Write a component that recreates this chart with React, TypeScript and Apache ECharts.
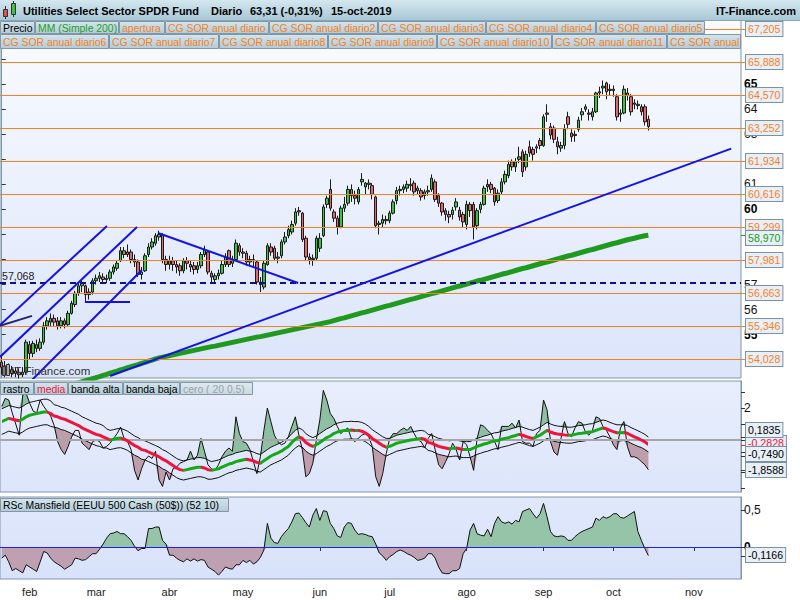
import React, { useEffect, useRef } from 'react';
import * as echarts from 'echarts';

// ---------- calendario de sesiones ----------
const INICIO = '2019-01-22';
const NUM_SESIONES = 212;
const FERIADOS = ['2019-02-18', '2019-04-19', '2019-05-27', '2019-07-04', '2019-09-02', '2019-11-28'];
const MESES = ['ene', 'feb', 'mar', 'abr', 'may', 'jun', 'jul', 'ago', 'sep', 'oct', 'nov', 'dic'];

// ---------- precio: [apertura, cierre, mínimo, máximo] ----------
const velas: number[][] = [
  [53.90, 53.70, 53.40, 54.20], [53.75, 53.55, 53.30, 53.95], [53.50, 53.65, 53.35, 53.85], [53.60, 53.45, 53.30, 53.75],
  [53.45, 53.55, 53.30, 53.70], [53.50, 53.40, 53.25, 53.65], [53.40, 53.50, 53.30, 53.70], [53.50, 54.70, 53.40, 54.80],
  [54.60, 54.25, 54.00, 54.75], [54.25, 54.65, 54.10, 54.75], [54.60, 54.45, 54.30, 54.80], [54.45, 54.70, 54.35, 54.85],
  [54.70, 55.35, 54.60, 55.50], [55.35, 55.55, 55.20, 55.70], [55.50, 55.65, 55.35, 55.85], [55.65, 55.50, 55.35, 55.80],
  [55.55, 55.35, 55.20, 55.70], [55.35, 55.55, 55.25, 55.70], [55.55, 55.40, 55.25, 55.65], [55.40, 55.85, 55.35, 55.95],
  [55.85, 56.25, 55.80, 56.35], [56.20, 56.65, 56.10, 56.75], [56.65, 56.95, 56.55, 57.10], [56.95, 57.05, 56.70, 57.20],
  [56.95, 56.60, 56.30, 57.00], [56.60, 56.70, 56.40, 56.85], [56.70, 57.15, 56.60, 57.25], [57.15, 57.25, 57.00, 57.40],
  [57.25, 57.35, 57.10, 57.50], [57.30, 57.20, 57.05, 57.45], [57.20, 57.25, 57.05, 57.40], [57.25, 57.50, 57.15, 57.60],
  [57.50, 57.70, 57.40, 57.80], [57.65, 57.85, 57.55, 57.95], [57.95, 58.35, 57.90, 58.50], [58.35, 58.20, 58.05, 58.50],
  [58.20, 58.30, 58.10, 58.60], [58.30, 58.00, 57.85, 58.40], [58.00, 57.90, 57.70, 58.20], [57.90, 57.40, 57.30, 58.00],
  [57.40, 57.50, 57.20, 57.70], [57.55, 58.15, 57.50, 58.25], [58.20, 58.50, 58.10, 58.65], [58.50, 58.70, 58.40, 58.85],
  [58.65, 58.95, 58.55, 59.05], [58.90, 59.00, 58.75, 59.15], [59.00, 58.00, 57.85, 59.05], [58.00, 57.80, 57.55, 58.15],
  [57.80, 57.95, 57.60, 58.15], [57.95, 57.80, 57.55, 58.10], [57.80, 57.70, 57.45, 57.95], [57.75, 57.55, 57.35, 57.85],
  [57.55, 57.95, 57.45, 58.05], [57.95, 57.85, 57.60, 58.10], [57.80, 57.70, 57.50, 57.95], [57.75, 57.60, 57.40, 57.90],
  [57.60, 57.75, 57.45, 57.90], [57.75, 58.20, 57.65, 58.30], [58.20, 58.40, 58.10, 58.55], [58.30, 57.50, 57.40, 58.35],
  [57.45, 57.30, 57.10, 57.55], [57.20, 57.35, 57.05, 57.45], [57.35, 57.45, 57.20, 57.60], [57.45, 57.80, 57.40, 57.95],
  [57.80, 58.10, 57.70, 58.25], [58.35, 57.80, 57.70, 58.40], [57.85, 58.00, 57.70, 58.15], [58.00, 58.65, 57.95, 58.80],
  [58.55, 58.30, 58.15, 58.65], [58.30, 58.25, 58.05, 58.45], [58.25, 57.90, 57.75, 58.35], [57.90, 58.00, 57.75, 58.15],
  [58.00, 57.95, 57.70, 58.20], [57.90, 57.10, 57.00, 57.95], [57.10, 57.00, 56.70, 57.30], [56.90, 57.85, 56.80, 57.95],
  [57.80, 58.55, 57.75, 58.65], [58.50, 58.30, 58.15, 58.65], [58.45, 58.05, 57.95, 58.55], [58.05, 58.10, 57.85, 58.30],
  [58.15, 58.70, 58.05, 58.80], [58.70, 58.90, 58.60, 59.10], [58.95, 59.20, 58.85, 59.35], [59.10, 59.40, 59.00, 59.55],
  [59.45, 59.90, 59.35, 60.05], [59.95, 59.90, 59.75, 60.10], [59.85, 58.80, 58.70, 59.90], [58.85, 58.10, 57.95, 58.95],
  [58.10, 58.00, 57.80, 58.25], [58.00, 58.05, 57.75, 58.20], [58.05, 58.85, 57.95, 58.95], [58.45, 58.85, 58.30, 59.05],
  [58.95, 60.10, 58.90, 60.20], [60.20, 60.45, 60.05, 60.55], [60.80, 60.05, 59.95, 61.20], [59.90, 59.65, 59.50, 60.00],
  [59.65, 59.30, 59.00, 59.75], [59.30, 60.05, 59.25, 60.15], [60.05, 60.20, 59.90, 60.50], [60.25, 60.80, 60.15, 60.95],
  [60.80, 60.55, 60.30, 61.00], [60.55, 60.45, 60.20, 60.75], [60.30, 60.80, 60.20, 60.90], [61.10, 61.20, 60.95, 61.45],
  [60.90, 61.05, 60.60, 61.10], [61.05, 61.00, 60.80, 61.20], [60.95, 60.60, 60.40, 61.05], [60.50, 59.35, 59.25, 60.55],
  [59.40, 59.45, 59.00, 59.55], [59.45, 59.60, 59.30, 59.80], [59.60, 59.55, 59.40, 59.75], [59.55, 59.85, 59.45, 59.95],
  [59.85, 60.30, 59.80, 60.40], [60.35, 60.75, 60.20, 60.90], [60.75, 60.80, 60.55, 60.95], [60.80, 60.90, 60.65, 61.00],
  [60.85, 61.00, 60.70, 61.15], [61.00, 60.95, 60.75, 61.25], [61.05, 60.70, 60.55, 61.15], [60.75, 60.85, 60.60, 60.95],
  [60.75, 60.50, 60.35, 60.85], [60.55, 60.70, 60.40, 60.80], [60.70, 60.75, 60.55, 60.95], [60.80, 61.25, 60.70, 61.40],
  [61.10, 60.40, 60.30, 61.20], [60.55, 60.25, 60.10, 60.65], [60.25, 59.90, 59.75, 60.30], [59.95, 59.80, 59.55, 60.05],
  [59.80, 59.70, 59.45, 59.95], [59.80, 59.97, 59.60, 60.10], [60.10, 60.30, 59.95, 60.45], [59.97, 59.70, 59.55, 60.10],
  [59.80, 59.50, 59.30, 59.90], [59.40, 60.20, 59.20, 60.35], [60.20, 59.95, 59.70, 60.30], [60.20, 59.30, 58.80, 60.30],
  [59.35, 59.95, 59.20, 60.05], [60.00, 60.20, 59.85, 60.30], [60.20, 60.85, 60.15, 60.95], [60.90, 61.00, 60.70, 61.20],
  [61.00, 60.80, 60.65, 61.10], [60.85, 60.30, 60.15, 60.90], [60.35, 60.65, 60.25, 60.80], [60.70, 61.10, 60.60, 61.25],
  [61.10, 61.40, 61.00, 61.55], [61.35, 61.80, 61.25, 61.95], [61.90, 61.70, 61.55, 62.00], [61.70, 61.90, 61.50, 62.05],
  [62.00, 62.10, 61.85, 62.50], [62.30, 61.50, 61.30, 62.40], [61.70, 62.20, 61.55, 62.35], [62.50, 62.25, 62.10, 62.75],
  [62.40, 62.20, 61.95, 62.50], [62.45, 62.50, 62.25, 62.60], [62.75, 62.55, 62.40, 62.85], [62.55, 63.70, 62.50, 63.80],
  [63.85, 63.80, 63.50, 64.20], [63.30, 62.97, 62.80, 63.45], [63.25, 62.80, 62.65, 63.35], [62.70, 62.50, 62.20, 62.90],
  [62.45, 62.55, 62.30, 62.70], [62.55, 63.20, 62.40, 63.40], [63.70, 63.40, 63.20, 63.90], [63.05, 62.90, 62.70, 63.20],
  [62.95, 63.00, 62.70, 63.15], [63.20, 63.57, 63.10, 63.70], [63.78, 63.90, 63.55, 64.05], [64.00, 64.10, 63.90, 64.20],
  [63.85, 63.80, 63.55, 64.00], [63.70, 63.90, 63.55, 64.05], [63.90, 64.65, 63.85, 64.70], [64.65, 64.70, 64.45, 64.90],
  [64.85, 64.92, 64.60, 65.15], [65.05, 64.70, 64.40, 65.10], [64.75, 64.80, 64.55, 65.00], [64.80, 64.75, 64.50, 64.95],
  [64.50, 63.70, 63.55, 64.60], [63.80, 63.85, 63.50, 64.00], [63.85, 64.80, 63.80, 64.95], [64.65, 64.55, 64.35, 64.85],
  [64.50, 63.90, 63.75, 64.60], [64.20, 64.25, 64.00, 64.40], [64.15, 64.20, 64.00, 64.35], [64.10, 63.90, 63.75, 64.20],
  [64.10, 63.50, 63.35, 64.20], [63.60, 63.31, 63.15, 63.75],
];

// MM (Simple 200)
const mediaMovil200 = [
  52.20, 52.24, 52.28, 52.33, 52.37, 52.41, 52.45, 52.49, 52.52, 52.56, 52.60, 52.64, 52.67, 52.71, 52.75, 52.79, 52.84, 52.88, 52.92, 52.96,
  53.00, 53.04, 53.08, 53.12, 53.16, 53.20, 53.24, 53.28, 53.32, 53.37, 53.41, 53.46, 53.50, 53.54, 53.59, 53.63, 53.68, 53.72, 53.76, 53.80,
  53.85, 53.89, 53.94, 53.98, 54.03, 54.07, 54.10, 54.13, 54.16, 54.19, 54.22, 54.25, 54.28, 54.31, 54.34, 54.37, 54.40, 54.43, 54.46, 54.49,
  54.52, 54.54, 54.57, 54.60, 54.63, 54.66, 54.69, 54.72, 54.75, 54.78, 54.81, 54.84, 54.87, 54.90, 54.92, 54.95, 54.98, 55.01, 55.04, 55.07,
  55.10, 55.13, 55.16, 55.19, 55.22, 55.25, 55.28, 55.31, 55.34, 55.37, 55.40, 55.43, 55.46, 55.49, 55.52, 55.56, 55.60, 55.64, 55.67, 55.71,
  55.75, 55.79, 55.83, 55.87, 55.90, 55.94, 55.98, 56.02, 56.06, 56.10, 56.14, 56.17, 56.21, 56.25, 56.29, 56.33, 56.37, 56.41, 56.44, 56.48,
  56.52, 56.56, 56.60, 56.64, 56.67, 56.71, 56.75, 56.79, 56.83, 56.87, 56.91, 56.94, 56.98, 57.02, 57.06, 57.10, 57.14, 57.17, 57.21, 57.25,
  57.29, 57.33, 57.37, 57.41, 57.44, 57.48, 57.52, 57.56, 57.60, 57.64, 57.67, 57.71, 57.75, 57.79, 57.83, 57.87, 57.90, 57.94, 57.98, 58.02,
  58.06, 58.10, 58.14, 58.17, 58.21, 58.25, 58.29, 58.33, 58.37, 58.40, 58.44, 58.48, 58.52, 58.56, 58.60, 58.64, 58.67, 58.71, 58.75, 58.79,
  58.82, 58.85, 58.89, 58.92, 58.95, 58.97,
];

// CG SOR anual diario (niveles)
const nivelesSOR = [67.205, 65.888, 64.570, 63.252, 61.934, 60.616, 59.299, 57.981, 56.663, 55.346, 54.028];
const nivelSoporte = 57.068;
const ultimoMM = 58.970;

// líneas de tendencia [índice de sesión, precio]
const lineasTendencia: number[][][] = [
  [[-0.5, 55.385], [30.1, 59.34]],
  [[-0.5, 54.11], [38.7, 59.30]],
  [[8.66, 53.19], [40.1, 57.58]],
  [[-0.5, 55.35], [8.66, 55.75]],
  [[23.8, 56.30], [36.7, 56.30]],
  [[44.7, 59.06], [84.8, 57.06]],
  [[31.0, 53.35], [208.7, 62.43]],
];

const precioTicks = [54, 55, 56, 57, 58, 59, 60, 61, 62, 63, 64, 65, 66, 67];
const precioEtiquetas = [55, 56, 57, 60, 61, 63, 64, 65];

// ---------- rastro ----------
const rastro = [
  2.1, 2.6, 2.5, 1.7, 1.0, 0.3, 2.8, 2.9, 2.3, 1.8,
  1.7, 2.5, 2.1, 1.8, 1.5, 0.9, -0.1, -0.6, -0.9, -0.4,
  0.2, 0.6, 0.6, -0.2, -0.4, -0.6, -0.1, 0.0, -0.1, -0.5,
  -0.4, -0.2, 0.1, 0.4, 0.8, 0.1, -0.1, -0.6, -1.9, -2.5,
  -1.8, -1.25, -1.0, -1.15, -0.7, -2.5, -2.9, -2.0, -2.5, -1.8,
  -1.7, -1.45, -1.35, -1.25, -0.7, -1.25, -0.95, 0.1, -0.7, -1.55,
  -1.8, -1.9, -1.55, -1.05, -0.7, -0.5, -0.7, 1.45, 0.4, -0.1,
  -0.2, -0.6, -1.35, -2.1, -1.05, 0.6, 2.0, 1.15, 0.3, -0.1,
  -0.3, -0.2, 0.2, 0.85, 1.45, 0.3, -0.6, -2.3, -2.1, -1.45,
  0.0, 1.25, 3.1, 2.5, 1.65, 1.35, 0.85, 0.4, 0.6, 0.75,
  0.1, -0.1, 0.1, 0.3, 0.4, 0.2, -0.4, -2.3, -2.9, -2.1,
  -0.85, 0.1, 0.4, 0.4,
  0.6, 0.75, 0.6, 0.85, 0.4, 0.0, -0.1, -0.5, 0.1, 0.4,
  -0.6, -1.55, -1.8, -1.35, -0.85, -0.2, -0.6, -1.25, -0.1, -0.3,
  -1.05, -1.9, 0.1, 0.95, 0.85, 0.6, 0.4, -0.1, -0.6, 0.85,
  0.85, 0.85, 1.05, 0.75, 1.25, -0.1, -0.2, -0.2, -0.4, 0.4,
  0.6, 2.5, 1.9, -0.1, -0.75, -0.95, 0.1, 1.15, 0.4, 0.2,
  0.75, 1.15, 1.05, 0.5, 0.3, 0.6, 1.45, 1.35, 0.85, 0.6,
  0.2, -0.3, -0.6, 0.75, 1.15, -0.4, -1.05, -1.05, -1.15, -1.35,
  -1.55, -1.8588,
];

const mediaRastro = [
  1.15, 1.25, 1.35, 1.3, 1.25, 1.2, 1.3, 1.45, 1.55, 1.6,
  1.65, 1.7, 1.75, 1.75, 1.65, 1.5, 1.45, 1.35, 1.3, 1.2,
  1.1, 1.0, 0.9, 0.75, 0.65, 0.55, 0.45, 0.35, 0.3, 0.2,
  0.1, 0.0, 0.05, 0.1, 0.12, 0.05, -0.05, -0.2, -0.35, -0.45,
  -0.6, -0.65, -0.75, -0.85, -0.95, -1.05, -1.2, -1.3, -1.45, -1.6,
  -1.75, -1.85, -1.9, -1.85, -1.8, -1.75, -1.7, -1.7, -1.75, -1.85,
  -1.9, -1.85, -1.8, -1.7, -1.6, -1.5, -1.45, -1.35, -1.3, -1.25,
  -1.2, -1.25, -1.3, -1.4, -1.45, -1.3, -1.15, -1.0, -0.9, -0.8,
  -0.7, -0.55, -0.4, -0.15, 0.05, 0.2, 0.1, -0.15, -0.3, -0.4,
  -0.3, -0.15, 0.0, 0.15, 0.25, 0.4, 0.5, 0.55, 0.6, 0.6,
  0.62, 0.6, 0.6, 0.55, 0.45, 0.3, 0.1, -0.05, -0.2, -0.35,
  -0.45, -0.4, -0.3, -0.2,
  -0.15, -0.1, -0.05, 0.0, 0.03, 0.07, 0.1, 0.05, -0.15, -0.2,
  -0.3, -0.4, -0.45, -0.5, -0.55, -0.52, -0.5, -0.55, -0.6, -0.6,
  -0.6, -0.5, -0.4, -0.33, -0.25, -0.2, -0.12, -0.05, -0.03, 0.05,
  0.1, 0.15, 0.22, 0.28, 0.35, 0.3, 0.22, 0.15, 0.1, 0.2,
  0.3, 0.45, 0.6, 0.5, 0.42, 0.37, 0.35, 0.32, 0.3, 0.3,
  0.35, 0.4, 0.42, 0.45, 0.5, 0.52, 0.6, 0.68, 0.75, 0.7,
  0.6, 0.52, 0.45, 0.45, 0.47, 0.42, 0.3, 0.2, 0.1, 0.0,
  -0.12, -0.2828,
];

const bandaAlta = [
  1.95, 2.05, 2.15, 2.1, 2.05, 2.0, 2.1, 2.25, 2.35, 2.4,
  2.45, 2.5, 2.55, 2.55, 2.45, 2.2, 2.15, 2.05, 2.0, 1.9,
  1.8, 1.7, 1.6, 1.45, 1.35, 1.25, 1.15, 1.05, 1.0, 0.9,
  0.7, 0.6, 0.65, 0.7, 0.72, 0.65, 0.55, 0.4, 0.25, 0.15,
  0.0, -0.05, -0.15, -0.25, -0.35, -0.45, -0.6, -0.7, -0.85, -1.0,
  -1.15, -1.25, -1.3, -1.25, -1.2, -1.15, -1.1, -1.1, -1.15, -1.25,
  -1.35, -1.3, -1.25, -1.15, -1.05, -0.95, -0.9, -0.8, -0.75, -0.7,
  -0.65, -0.7, -0.75, -0.85, -0.9, -0.75, -0.6, -0.45, -0.35, -0.25,
  -0.15, 0.0, 0.15, 0.4, 0.6, 0.75, 0.65, 0.4, 0.25, 0.15,
  0.25, 0.4, 0.55, 0.7, 0.8, 0.95, 1.05, 1.1, 1.15, 1.15,
  1.17, 1.15, 1.15, 1.1, 1.0, 0.85, 0.65, 0.5, 0.35, 0.2,
  0.1, 0.1, 0.2, 0.3,
  0.35, 0.4, 0.45, 0.5, 0.53, 0.57, 0.6, 0.55, 0.35, 0.3,
  0.2, 0.1, 0.05, 0.0, -0.05, -0.02, 0.0, -0.05, -0.1, -0.1,
  -0.1, 0.0, 0.1, 0.17, 0.25, 0.3, 0.38, 0.45, 0.47, 0.55,
  0.6, 0.65, 0.72, 0.78, 0.85, 0.8, 0.72, 0.65, 0.6, 0.7,
  0.8, 0.95, 1.1, 1.0, 0.92, 0.87, 0.85, 0.82, 0.8, 0.8,
  0.85, 0.9, 0.92, 0.95, 1.0, 1.02, 1.1, 1.18, 1.25, 1.2,
  1.1, 1.02, 0.95, 0.95, 0.95, 0.9, 0.78, 0.68, 0.58, 0.47,
  0.35, 0.1835,
];

const bandaBaja = [
  0.35, 0.45, 0.55, 0.5, 0.45, 0.4, 0.5, 0.65, 0.75, 0.8,
  0.85, 0.9, 0.95, 0.95, 0.85, 0.8, 0.75, 0.65, 0.6, 0.5,
  0.4, 0.3, 0.2, 0.05, -0.05, -0.15, -0.25, -0.35, -0.4, -0.5,
  -0.5, -0.6, -0.55, -0.5, -0.48, -0.55, -0.65, -0.8, -0.95, -1.05,
  -1.2, -1.25, -1.35, -1.45, -1.55, -1.65, -1.8, -1.9, -2.05, -2.2,
  -2.35, -2.45, -2.5, -2.45, -2.4, -2.35, -2.3, -2.3, -2.35, -2.45,
  -2.45, -2.4, -2.35, -2.25, -2.15, -2.05, -2.0, -1.9, -1.85, -1.8,
  -1.75, -1.8, -1.85, -1.95, -2.0, -1.85, -1.7, -1.55, -1.45, -1.35,
  -1.25, -1.1, -0.95, -0.7, -0.5, -0.35, -0.45, -0.7, -0.85, -0.95,
  -0.85, -0.7, -0.55, -0.4, -0.3, -0.15, -0.05, 0.0, 0.05, 0.05,
  0.07, 0.05, 0.05, 0.0, -0.1, -0.25, -0.45, -0.6, -0.75, -0.9,
  -1.0, -0.9, -0.8, -0.7,
  -0.65, -0.6, -0.55, -0.5, -0.47, -0.43, -0.4, -0.45, -0.65, -0.7,
  -0.8, -0.9, -0.95, -1.0, -1.05, -1.02, -1.0, -1.05, -1.1, -1.1,
  -1.1, -1.0, -0.9, -0.83, -0.75, -0.7, -0.62, -0.55, -0.53, -0.45,
  -0.4, -0.35, -0.28, -0.22, -0.15, -0.2, -0.28, -0.35, -0.4, -0.3,
  -0.2, -0.05, 0.1, 0.0, -0.08, -0.13, -0.15, -0.18, -0.2, -0.2,
  -0.15, -0.1, -0.08, -0.05, 0.0, 0.02, 0.1, 0.18, 0.25, 0.2,
  0.1, 0.02, -0.05, -0.05, -0.03, -0.08, -0.2, -0.3, -0.4, -0.47,
  -0.6, -0.749,
];

// ---------- RSc Mansfield ----------
const mansfield = [
  -0.15, -0.11, -0.2, -0.32, -0.29, -0.32, -0.35, -0.24, -0.27, -0.3,
  -0.33, -0.2, -0.06, -0.08, -0.15, -0.2, -0.23, -0.26, -0.3, -0.27,
  -0.24, -0.15, -0.16, -0.18, -0.17, -0.13, -0.09, -0.09, -0.03, 0.04,
  0.12, 0.18, 0.19, 0.21, 0.18, 0.18, 0.14, 0.09, 0.01, -0.05,
  -0.02, -0.02, 0.25, 0.25, 0.27, 0.27, 0.09, 0.04, -0.11, -0.11,
  -0.15, -0.18, -0.2, -0.16, -0.19, -0.16, -0.19, -0.17, -0.18, -0.27,
  -0.3, -0.33, -0.38, -0.33, -0.27, -0.29, -0.3, -0.24, -0.24, -0.18,
  -0.21, -0.18, -0.23, -0.2, -0.14, -0.04, 0.32, 0.12, 0.06, 0.05,
  0.14, 0.2, 0.25, 0.34, 0.45, 0.46, 0.4, 0.33, 0.27, 0.43,
  0.52, 0.36, 0.49, 0.48, 0.32, 0.25, 0.15, 0.13, 0.27, 0.33,
  0.32, 0.23, 0.17, 0.18, 0.17, 0.15, 0.14, 0.04, -0.08, -0.12,
  -0.18, -0.13, -0.1, -0.06,
  -0.04, -0.06, -0.09, -0.11, -0.14, -0.18, -0.17, -0.15, -0.09, -0.09,
  -0.15, -0.27, -0.35, -0.36, -0.36, -0.32, -0.32, -0.29, -0.09, -0.02,
  0.23, 0.32, 0.18, 0.16, 0.15, 0.24, 0.14, 0.32, 0.41, 0.34,
  0.32, 0.34, 0.31, 0.36, 0.34, 0.48, 0.5, 0.52, 0.45, 0.39,
  0.45, 0.59, 0.41, 0.21, 0.15, 0.14, 0.15, 0.14, 0.09, 0.09,
  0.14, 0.18, 0.21, 0.23, 0.25, 0.27, 0.39, 0.36, 0.41, 0.39,
  0.41, 0.45, 0.45, 0.4, 0.39, 0.42, 0.45, 0.48, 0.21, 0.09,
  -0.02, -0.1166,
];

// ---------- textos ----------
const titulo = ['Utilities Select Sector SPDR Fund', 'Diario', '63,31 (-0,31%)', '15-oct-2019'];
const leyendaFila1 = ['Precio', 'MM (Simple 200)', 'apertura', 'CG SOR anual diario', 'CG SOR anual diario2', 'CG SOR anual diario3', 'CG SOR anual diario4', 'CG SOR anual diario5'];
const leyendaFila2 = ['CG SOR anual diario6', 'CG SOR anual diario7', 'CG SOR anual diario8', 'CG SOR anual diario9', 'CG SOR anual diario10', 'CG SOR anual diario11', 'CG SOR anual'];
const leyendaRastro = ['rastro', 'media', 'banda alta', 'banda baja', 'cero ( 20 0.5)'];
const leyendaMansfield = 'RSc Mansfield (EEUU 500 Cash (50$)) (52 10)';

// ---------- estilo ----------
const FONT = '"Liberation Sans", Arial, sans-serif';
const FS_LEY = 10.4;
const NARANJA = '#f5821f';
const VERDE_MM = '#1f9a1f';
const ROJO_MEDIA = '#f0143c';
const VERDE_MEDIA = '#17a817';
const AZUL = '#1212e6';
const BORDE = '#8097a8';

function sesiones(): string[] {
  const out: string[] = [];
  const d = new Date(INICIO + 'T12:00:00Z');
  while (out.length < NUM_SESIONES) {
    const dow = d.getUTCDay();
    const s = d.toISOString().slice(0, 10);
    if (dow !== 0 && dow !== 6 && FERIADOS.indexOf(s) < 0) out.push(s);
    d.setUTCDate(d.getUTCDate() + 1);
  }
  return out;
}

const coma = (v: number, dec: number) => v.toFixed(dec).replace('.', ',');

function grad(c1: string, c2: string) {
  return new echarts.graphic.LinearGradient(0, 0, 0, 1, [
    { offset: 0, color: c1 },
    { offset: 1, color: c2 },
  ]);
}

function cajaLeyenda(x: number, y: number, w: number, h: number, text: string, color: string, bg?: any) {
  return {
    type: 'group',
    z: 100,
    children: [
      {
        type: 'rect', z: 100,
        shape: { x: x + 0.5, y: y + 0.5, width: w - 1, height: h - 1 },
        style: { fill: bg || grad('#d3e4ec', '#b3cbd7'), stroke: BORDE, lineWidth: 1 },
      },
      {
        type: 'text', z: 101, x: x + 3, y: y + h / 2 + 0.5,
        style: { text, fill: color, fontSize: FS_LEY, fontFamily: FONT, verticalAlign: 'middle' },
      },
    ],
  };
}

function etiquetaValor(py: number, dy: number, text: string, color: string, tickColor: string) {
  return [
    { type: 'line', z: 100, shape: { x1: 741, y1: Math.round(py) + 0.5, x2: 746, y2: Math.round(py) + 0.5 }, style: { stroke: tickColor, lineWidth: 1 } },
    {
      type: 'text', z: 101, x: 746, y: Math.round(py + dy),
      style: {
        text, fill: color, fontSize: 10.6, fontFamily: FONT, verticalAlign: 'middle',
        backgroundColor: '#e8eff6', borderColor: '#7893a6', borderWidth: 1, padding: [2, 2, 1, 2],
      },
    },
  ];
}

export default function App() {
  const ref = useRef<HTMLDivElement>(null);

  useEffect(() => {
    if (!ref.current) return;
    const chart = echarts.init(ref.current, undefined, { renderer: 'svg' });
    const fechas = sesiones();
    const esInicioMes = (i: number) => i > 0 && fechas[i].slice(5, 7) !== fechas[i - 1].slice(5, 7);

    // tramos de la media (rojo bajando, verde subiendo)
    const piezas: any[] = [];
    let ini = 0;
    let sube = mediaRastro[1] >= mediaRastro[0];
    for (let i = 1; i < mediaRastro.length; i++) {
      const s = i < mediaRastro.length - 1 ? mediaRastro[i + 1] >= mediaRastro[i] : sube;
      if (s !== sube || i === mediaRastro.length - 1) {
        piezas.push({ gte: ini, lte: i, color: sube ? VERDE_MEDIA : ROJO_MEDIA });
        if (i < mediaRastro.length - 1) { ini = i; sube = s; }
      }
    }
    for (let k = 1; k < piezas.length; k++) { piezas[k] = { gt: piezas[k].gte, lte: piezas[k].lte, color: piezas[k].color }; }

    const xCat = (gridIndex: number, showLabels: boolean) => ({
      type: 'category', gridIndex, data: fechas, boundaryGap: true,
      axisLine: { show: false },
      axisTick: showLabels
        ? { show: true, interval: (i: number) => esInicioMes(i), alignWithLabel: true, length: 4, lineStyle: { color: '#333' } }
        : { show: false },
      axisLabel: showLabels
        ? {
            show: true, interval: (i: number) => esInicioMes(i), margin: 7, fontSize: 11, fontFamily: FONT, color: '#222',
            formatter: (v: string) => MESES[parseInt(v.slice(5, 7), 10) - 1],
          }
        : { show: false },
      splitLine: { show: false },
    });

    const option: any = {
      animation: false,
      backgroundColor: '#ffffff',
      textStyle: { fontFamily: FONT },
      grid: [
        { left: 0, top: 20, width: 741, height: 358, show: true, borderColor: BORDE, borderWidth: 1, backgroundColor: grad('#f9fbff', '#dbe4fa') },
        { left: 0, top: 381, width: 741, height: 111, show: true, borderColor: BORDE, borderWidth: 1, backgroundColor: grad('#e8eefc', '#dde5fb') },
        { left: 0, top: 497, width: 741, height: 82, show: true, borderColor: BORDE, borderWidth: 1, backgroundColor: grad('#e0e8fb', '#d8e2fa') },
      ],
      xAxis: [
        xCat(0, false),
        xCat(1, false),
        xCat(2, true),
        { type: 'value', gridIndex: 0, min: -0.5, max: NUM_SESIONES - 0.5, show: false },
      ],
      yAxis: [
        {
          type: 'value', gridIndex: 0, position: 'right', min: 53.268, max: 67.565,
          axisLine: { show: true, lineStyle: { color: BORDE } },
          axisTick: { show: true, length: 4, customValues: precioTicks, lineStyle: { color: '#333' } },
          axisLabel: {
            customValues: precioEtiquetas, margin: 3, fontSize: 12, fontFamily: FONT, color: '#111',
            formatter: (v: number) => (v % 5 === 0 ? `{b|${v}}` : `${v}`),
            rich: { b: { fontWeight: 'bold', fontSize: 12, fontFamily: FONT, color: '#000' } },
          },
          splitLine: { show: false },
        },
        {
          type: 'value', gridIndex: 1, position: 'right', min: -3.25, max: 3.6875,
          axisLine: { show: true, lineStyle: { color: BORDE } },
          axisTick: { show: true, length: 4, customValues: [-3, -2, -1, 0, 1, 2, 3], lineStyle: { color: '#333' } },
          axisLabel: { customValues: [2], margin: 3, fontSize: 12, fontFamily: FONT, color: '#111' },
          splitLine: { show: false },
        },
        {
          type: 'value', gridIndex: 2, position: 'right', min: -0.432, max: 0.676,
          axisLine: { show: true, lineStyle: { color: BORDE } },
          axisTick: { show: true, length: 4, customValues: [0, 0.5], lineStyle: { color: '#333' } },
          axisLabel: {
            customValues: [0, 0.5], margin: 3, fontSize: 12, fontFamily: FONT, color: '#111',
            formatter: (v: number) => (v === 0 ? '{b|0}' : coma(v, 1)),
            rich: { b: { fontWeight: 'bold', fontSize: 12, fontFamily: FONT, color: '#000' } },
          },
          splitLine: { show: false },
        },
      ],
      visualMap: [
        { type: 'piecewise', show: false, dimension: 0, seriesIndex: 9, pieces: piezas },
      ],
      series: [
        {
          type: 'candlestick', name: 'Precio', xAxisIndex: 0, yAxisIndex: 0, data: velas, barWidth: 3, z: 4,
          itemStyle: { color: '#3cc43c', color0: '#e06a6a', borderColor: '#1a1a1a', borderColor0: '#1a1a1a', borderWidth: 1 },
          markLine: {
            silent: true, symbol: ['none', 'none'], label: { show: false }, animation: false,
            data: [
              ...nivelesSOR.map((v) => ({ yAxis: v, lineStyle: { color: NARANJA, width: 1, type: 'solid' } })),
              { yAxis: nivelSoporte, lineStyle: { color: '#12127e', width: 2, type: [6, 4] } },
            ],
          },
        },
        {
          type: 'line', name: 'MM (Simple 200)', xAxisIndex: 0, yAxisIndex: 0, data: mediaMovil200,
          showSymbol: false, symbol: 'none', lineStyle: { color: VERDE_MM, width: 5 }, z: 3, silent: true,
        },
        {
          type: 'line', xAxisIndex: 1, yAxisIndex: 1, stack: 'alta', stackStrategy: 'all', data: bandaAlta,
          symbol: 'none', lineStyle: { opacity: 0, width: 0 }, silent: true, z: 2,
        },
        {
          type: 'line', xAxisIndex: 1, yAxisIndex: 1, stack: 'alta', stackStrategy: 'all',
          data: rastro.map((v, i) => Math.max(v - bandaAlta[i], 0)),
          symbol: 'none', lineStyle: { opacity: 0, width: 0 }, areaStyle: { color: '#8fbfa2', opacity: 1 }, silent: true, z: 2,
        },
        {
          type: 'line', xAxisIndex: 1, yAxisIndex: 1, stack: 'baja', stackStrategy: 'all', data: bandaBaja,
          symbol: 'none', lineStyle: { opacity: 0, width: 0 }, silent: true, z: 2,
        },
        {
          type: 'line', xAxisIndex: 1, yAxisIndex: 1, stack: 'baja', stackStrategy: 'all',
          data: rastro.map((v, i) => Math.min(v - bandaBaja[i], 0)),
          symbol: 'none', lineStyle: { opacity: 0, width: 0 }, areaStyle: { color: '#bf9eab', opacity: 1 }, silent: true, z: 2,
        },
        {
          type: 'line', name: 'banda alta', xAxisIndex: 1, yAxisIndex: 1, data: bandaAlta,
          symbol: 'none', lineStyle: { color: '#111', width: 1 }, silent: true, z: 3,
        },
        {
          type: 'line', name: 'banda baja', xAxisIndex: 1, yAxisIndex: 1, data: bandaBaja,
          symbol: 'none', lineStyle: { color: '#111', width: 1 }, silent: true, z: 3,
        },
        {
          type: 'line', name: 'rastro', xAxisIndex: 1, yAxisIndex: 1, data: rastro,
          symbol: 'none', lineStyle: { color: '#111', width: 1 }, silent: true, z: 4,
          markLine: {
            silent: true, symbol: ['none', 'none'], label: { show: false },
            data: [{ yAxis: 0, lineStyle: { color: '#a6a6a6', width: 2, type: 'solid' } }],
          },
        },
        {
          type: 'line', name: 'media', xAxisIndex: 1, yAxisIndex: 1, data: mediaRastro,
          symbol: 'none', lineStyle: { width: 3 }, silent: true, z: 5,
        },
        {
          type: 'line', xAxisIndex: 2, yAxisIndex: 2, data: mansfield.map((v) => Math.max(v, 0)),
          symbol: 'none', lineStyle: { width: 0, opacity: 0 }, areaStyle: { color: '#95c4a8', opacity: 1 }, silent: true, z: 2,
        },
        {
          type: 'line', xAxisIndex: 2, yAxisIndex: 2, data: mansfield.map((v) => Math.min(v, 0)),
          symbol: 'none', lineStyle: { width: 0, opacity: 0 }, areaStyle: { color: '#bf9fb2', opacity: 1 }, silent: true, z: 2,
        },
        {
          type: 'line', name: 'RSc Mansfield', xAxisIndex: 2, yAxisIndex: 2, data: mansfield,
          symbol: 'none', lineStyle: { color: '#111', width: 1 }, silent: true, z: 4,
          markLine: {
            silent: true, symbol: ['none', 'none'], label: { show: false },
            data: [{ yAxis: 0, lineStyle: { color: '#2222dd', width: 1, type: 'solid' } }],
          },
        },
        ...lineasTendencia.map((seg, k) => ({
          type: 'line', xAxisIndex: 3, yAxisIndex: 0, data: seg, symbol: 'none', silent: true, z: 6,
          lineStyle: { color: k === 3 ? '#26266e' : AZUL, width: 2 },
        })),
      ],
    };

    chart.setOption(option);

    const py = (axis: number, v: number) => chart.convertToPixel({ yAxisIndex: axis }, v) as number;

    const estaticos: any[] = [];
    estaticos.push({ type: 'rect', z: 100, shape: { x: 0, y: 0, width: 800, height: 20 }, style: { fill: grad('#d4e7ef', '#a8c8d6') } });
    estaticos.push({ type: 'line', z: 100, shape: { x1: 0, y1: 20.5, x2: 800, y2: 20.5 }, style: { stroke: '#8aa4b3', lineWidth: 1 } });
    estaticos.push({ type: 'line', z: 101, shape: { x1: 5.5, y1: 6, x2: 5.5, y2: 19 }, style: { stroke: '#333', lineWidth: 1 } });
    estaticos.push({ type: 'rect', z: 102, shape: { x: 3.5, y: 9.5, width: 4, height: 7 }, style: { fill: '#e05050', stroke: '#333', lineWidth: 1 } });
    estaticos.push({ type: 'line', z: 101, shape: { x1: 13.5, y1: 1, x2: 13.5, y2: 17 }, style: { stroke: '#333', lineWidth: 1 } });
    estaticos.push({ type: 'rect', z: 102, shape: { x: 11.5, y: 3.5, width: 4, height: 11 }, style: { fill: '#3cc43c', stroke: '#333', lineWidth: 1 } });
    const titX = [23, 211, 250, 331];
    titulo.forEach((t, i) => estaticos.push({
      type: 'text', z: 102, x: titX[i], y: 11,
      style: { text: t, fill: '#000', fontSize: 11, fontWeight: 'bold', fontFamily: FONT, verticalAlign: 'middle' },
    }));
    estaticos.push({
      type: 'text', z: 102, x: 796, y: 11,
      style: { text: 'IT-Finance.com', fill: '#000', fontSize: 11, fontWeight: 'bold', fontFamily: FONT, verticalAlign: 'middle', align: 'right' },
    });

    const f1x = [0, 35, 119, 165, 269, 378, 486, 596, 705];
    const f1c = ['#000', '#22a022', NARANJA, NARANJA, NARANJA, NARANJA, NARANJA, NARANJA];
    leyendaFila1.forEach((t, i) => estaticos.push(cajaLeyenda(f1x[i], 21, f1x[i + 1] - f1x[i], 13, t, f1c[i])));
    const f2x = [0, 109, 219, 328, 437, 552, 667, 741];
    leyendaFila2.forEach((t, i) => estaticos.push(cajaLeyenda(f2x[i], 34, f2x[i + 1] - f2x[i], 15, t, NARANJA)));

    const rx = [0, 34, 68, 123, 180, 253];
    const rc = ['#000', ROJO_MEDIA, '#000', '#000', '#98a2aa'];
    leyendaRastro.forEach((t, i) => estaticos.push(cajaLeyenda(rx[i], 382, rx[i + 1] - rx[i], 13, t, rc[i], i === 4 ? grad('#dfe8ee', '#c9d8e0') : undefined)));
    estaticos.push(cajaLeyenda(0, 498, 229, 14, leyendaMansfield, '#000'));

    estaticos.push({ type: 'rect', z: 50, shape: { x: 2.5, y: 366.5, width: 3, height: 9 }, style: { fill: '#777', stroke: '#333', lineWidth: 1 } });
    estaticos.push({ type: 'rect', z: 50, shape: { x: 6.5, y: 364.5, width: 3, height: 11 }, style: { fill: '#aaa', stroke: '#333', lineWidth: 1 } });
    estaticos.push({
      type: 'text', z: 50, x: 11, y: 371,
      style: { text: 'IT-Finance.com', fill: '#333', fontSize: 11.5, fontFamily: FONT, verticalAlign: 'middle' },
    });

    estaticos.push({
      type: 'text', z: 50, x: 2, y: py(0, nivelSoporte) - 7,
      style: { text: coma(nivelSoporte, 3), fill: '#222', fontSize: 10.6, fontFamily: FONT, verticalAlign: 'middle' },
    });

    nivelesSOR.forEach((v) => estaticos.push(...etiquetaValor(py(0, v), 0, coma(v, 3), NARANJA, NARANJA)));
    estaticos.push(...etiquetaValor(py(0, ultimoMM), 3, coma(ultimoMM, 3), '#1a9a1a', '#1a9a1a'));

    const n = rastro.length - 1;
    estaticos.push(...etiquetaValor(py(1, mediaRastro[n]), -2, coma(mediaRastro[n], 4), ROJO_MEDIA, ROJO_MEDIA));
    estaticos.push(...etiquetaValor(py(1, bandaAlta[n]), -7, coma(bandaAlta[n], 4), '#000', '#333'));
    estaticos.push(...etiquetaValor(py(1, bandaBaja[n]), 2, coma(bandaBaja[n], 4), '#000', '#333'));
    estaticos.push(...etiquetaValor(py(1, rastro[n]), 0, coma(rastro[n], 4), '#000', '#333'));
    estaticos.push(...etiquetaValor(py(2, mansfield[n]), -1, coma(mansfield[n], 4), '#000', '#333'));

    chart.setOption({ graphic: { elements: estaticos } });

    return () => chart.dispose();
  }, []);

  return <div ref={ref} style={{ position: 'absolute', left: 0, top: 0, width: 800, height: 600 }} />;
}
